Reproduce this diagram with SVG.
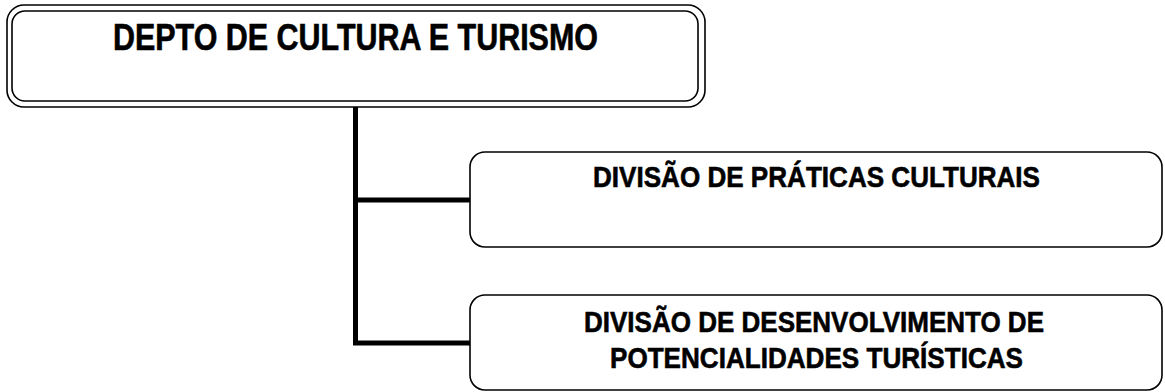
<svg xmlns="http://www.w3.org/2000/svg" width="1165" height="392" viewBox="0 0 1165 392">
<style>
.box{fill:#fff;stroke:#000;stroke-width:1.6}
.t{font-family:"Liberation Sans",Arial,sans-serif;font-weight:bold;fill:#000;stroke:#000;stroke-width:0.6;text-anchor:middle}
.c{stroke:#000;stroke-width:5;fill:none}
</style>
<rect width="1165" height="392" fill="#fff"/>
<g id="connectors">
<path class="c" d="M355.5,107 V345.5 M353,200 H470 M353,343 H470"/>
</g>
<g id="node-depto">
<rect class="box" x="7" y="5" width="698" height="102" rx="17"/>
<rect class="box" x="12" y="11" width="686" height="90" rx="13"/>
<text class="t" x="355.5" y="50" font-size="36" textLength="485" lengthAdjust="spacingAndGlyphs">DEPTO DE CULTURA E TURISMO</text>
</g>
<g id="node-praticas">
<rect class="box" x="470" y="152" width="692" height="95" rx="15"/>
<text class="t" x="816.5" y="187" font-size="29" textLength="447" lengthAdjust="spacingAndGlyphs">DIVISÃO DE PRÁTICAS CULTURAIS</text>
</g>
<g id="node-desenvolvimento">
<rect class="box" x="470" y="295" width="692" height="95" rx="15"/>
<text class="t" x="814" y="332" font-size="29" textLength="460" lengthAdjust="spacingAndGlyphs">DIVISÃO DE DESENVOLVIMENTO DE</text>
<text class="t" x="816.5" y="368" font-size="29" textLength="413" lengthAdjust="spacingAndGlyphs">POTENCIALIDADES TURÍSTICAS</text>
</g>
</svg>
